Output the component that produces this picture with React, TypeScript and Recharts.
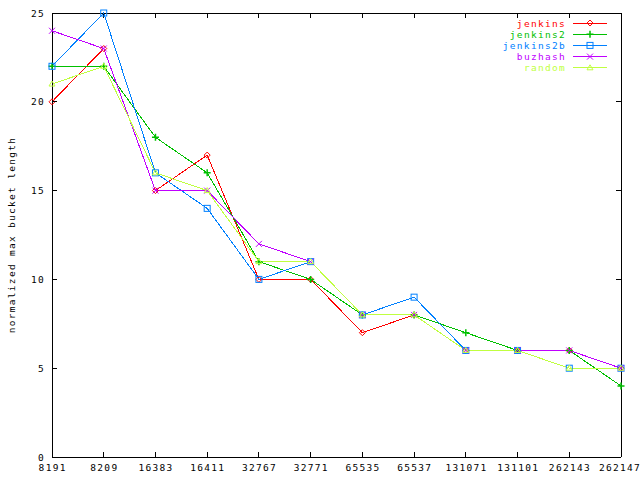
import React from 'react';
import { LineChart, Line, XAxis, YAxis, Legend, Label, ReferenceLine } from 'recharts';

const categories = ['8191', '8209', '16383', '16411', '32767', '32771', '65535', '65537', '131071', '131101', '262143', '262147'];
const jenkins = [20, 23, 15, 17, 10, 10, 7, 8, 6, 6, 6, 5];
const jenkins2 = [22, 22, 18, 16, 11, 10, 8, 8, 7, 6, 6, 4];
const jenkins2b = [22, 25, 16, 14, 10, 11, 8, 9, 6, 6, 5, 5];
const buzhash = [24, 23, 15, 15, 12, 11, 8, 8, 6, 6, 6, 5];
const random = [21, 22, 16, 15, 11, 11, 8, 8, 6, 6, 5, 5];
const yTicks = [0, 5, 10, 15, 20, 25];

const data = categories.map((n, i) => ({
  n,
  jenkins: jenkins[i],
  jenkins2: jenkins2[i],
  jenkins2b: jenkins2b[i],
  buzhash: buzhash[i],
  random: random[i],
}));

const FONT = "'DejaVu Sans Mono', 'Liberation Mono', monospace";
const FS = 9.5;
const LS = 1.3;
const TICK = 5;

const series = [
  { key: 'jenkins', color: '#ff0000', marker: 'diamond' },
  { key: 'jenkins2', color: '#00c000', marker: 'plus' },
  { key: 'jenkins2b', color: '#0080ff', marker: 'box' },
  { key: 'buzhash', color: '#c000ff', marker: 'cross' },
  { key: 'random', color: '#c0ff40', marker: 'triangle' },
];

function Marker({ type, cx, cy, color }: { type: string; cx: number; cy: number; color: string }) {
  const s = 3;
  const common = { stroke: color, strokeWidth: 1, fill: 'none' } as any;
  if (type === 'diamond') {
    return <path d={`M${cx},${cy - s} L${cx + s},${cy} L${cx},${cy + s} L${cx - s},${cy} Z`} {...common} />;
  }
  if (type === 'plus') {
    return <path d={`M${cx - 3.5},${cy} L${cx + 3.5},${cy} M${cx},${cy - 3.5} L${cx},${cy + 3.5}`} {...common} strokeWidth={1.5} />;
  }
  if (type === 'box') {
    return <rect x={cx - s} y={cy - s} width={2 * s} height={2 * s} {...common} />;
  }
  if (type === 'cross') {
    return <path d={`M${cx - s},${cy - s} L${cx + s},${cy + s} M${cx - s},${cy + s} L${cx + s},${cy - s}`} {...common} />;
  }
  return <path d={`M${cx},${cy - s} L${cx + s},${cy + s - 1} L${cx - s},${cy + s - 1} Z`} {...common} />;
}

const makeDot = (type: string, color: string) => (props: any) => {
  const { cx, cy, index } = props;
  if (cx == null || cy == null) return <g key={index} />;
  return (
    <g key={`${type}-${index}`}>
      <Marker type={type} cx={cx} cy={cy} color={color} />
    </g>
  );
};

const BottomTick = (props: any) => {
  const { x, y, payload, index } = props;
  const last = index === categories.length - 1;
  return (
    <g>
      <line x1={x} x2={x} y1={y} y2={y - TICK} stroke="#000" shapeRendering="crispEdges" />
      <text
        x={last ? 641 : x + LS / 2}
        y={y + 14}
        textAnchor={last ? 'end' : 'middle'}
        fontFamily={FONT}
        fontSize={FS}
        letterSpacing={LS}
        fill="#000"
      >
        {payload.value}
      </text>
    </g>
  );
};

const LeftTick = (props: any) => {
  const { x, y, payload } = props;
  return (
    <g>
      <line x1={x} x2={x + TICK} y1={y} y2={y} stroke="#000" shapeRendering="crispEdges" />
      <text x={x - 7} y={y + 3.5} textAnchor="end" fontFamily={FONT} fontSize={FS} letterSpacing={LS} fill="#000">
        {payload.value}
      </text>
    </g>
  );
};

const TopTickShape = (props: any) => {
  if (props == null || props.x1 == null) return <g />;
  const x = props.x1;
  const top = Math.min(props.y1, props.y2);
  return <line x1={x} x2={x} y1={top} y2={top + TICK} stroke="#000" shapeRendering="crispEdges" />;
};

const RightTickShape = (props: any) => {
  if (props == null || props.x1 == null) return <g />;
  const right = Math.max(props.x1, props.x2);
  const y = props.y1;
  return <line x1={right} x2={right - TICK} y1={y} y2={y} stroke="#000" shapeRendering="crispEdges" />;
};

const YTitle = (props: any) => {
  const vb = props.viewBox || { x: 0, y: 13, width: 52, height: 444 };
  const cx = vb.x + 15;
  const cy = vb.y + vb.height / 2;
  return (
    <text
      x={cx}
      y={cy}
      transform={`rotate(-90, ${cx}, ${cy})`}
      textAnchor="middle"
      fontFamily={FONT}
      fontSize={FS}
      letterSpacing={LS}
      fill="#000"
    >
      normalized max bucket length
    </text>
  );
};

const LegendContent = (props: any) => {
  const payload = props.payload || [];
  return (
    <svg width={640} height={90} style={{ position: 'absolute', left: 0, top: 0, overflow: 'visible' }}>
      {series.map((s, i) => {
        const p = payload.find((d: any) => d.value === s.key);
        const color = (p && p.color) || s.color;
        const y = 23 + i * 11.2;
        return (
          <g key={s.key}>
            <text x={566} y={y + 3.5} textAnchor="end" fontFamily={FONT} fontSize={FS} letterSpacing={LS} fill={color}>
              {s.key}
            </text>
            <line x1={573} x2={607} y1={y} y2={y} stroke={color} strokeWidth={1} shapeRendering="crispEdges" />
            <Marker type={s.marker} cx={590} cy={y} color={color} />
          </g>
        );
      })}
    </svg>
  );
};

export default function App() {
  return (
    <div style={{ position: 'absolute', left: 0, top: 0, width: 640, height: 480, background: '#fff' }}>
      <LineChart width={640} height={480} data={data} margin={{ top: 13, right: 19, bottom: 0, left: 0 }}>
        <XAxis
          dataKey="n"
          height={23}
          interval={0}
          tickSize={0}
          tickMargin={0}
          tickLine={false}
          axisLine={{ stroke: '#000', shapeRendering: 'crispEdges' }}
          tick={<BottomTick />}
        />
        <YAxis
          width={52}
          domain={[0, 25]}
          ticks={yTicks}
          interval={0}
          tickSize={0}
          tickMargin={0}
          tickLine={false}
          axisLine={{ stroke: '#000', shapeRendering: 'crispEdges' }}
          tick={<LeftTick />}
        >
          <Label content={<YTitle />} />
        </YAxis>
        <ReferenceLine y={yTicks[yTicks.length - 1]} stroke="#000" strokeWidth={1} ifOverflow="visible" shapeRendering="crispEdges" />
        <ReferenceLine x={categories[categories.length - 1]} stroke="#000" strokeWidth={1} ifOverflow="visible" shapeRendering="crispEdges" />
        {categories.slice(1, -1).map((c) => (
          <ReferenceLine key={`tx-${c}`} x={c} stroke="#000" ifOverflow="visible" shape={TopTickShape} />
        ))}
        {yTicks.slice(1, -1).map((v) => (
          <ReferenceLine key={`ty-${v}`} y={v} stroke="#000" ifOverflow="visible" shape={RightTickShape} />
        ))}
        {series.map((s) => (
          <Line
            key={s.key}
            dataKey={s.key}
            name={s.key}
            type="linear"
            stroke={s.color}
            strokeWidth={1}
            shapeRendering="crispEdges"
            dot={makeDot(s.marker, s.color)}
            activeDot={false}
            isAnimationActive={false}
          />
        ))}
        <Legend
          layout="horizontal"
          verticalAlign="middle"
          align="center"
          wrapperStyle={{ left: 0, top: 0, width: 640, height: 90 }}
          content={<LegendContent />}
        />
      </LineChart>
    </div>
  );
}
